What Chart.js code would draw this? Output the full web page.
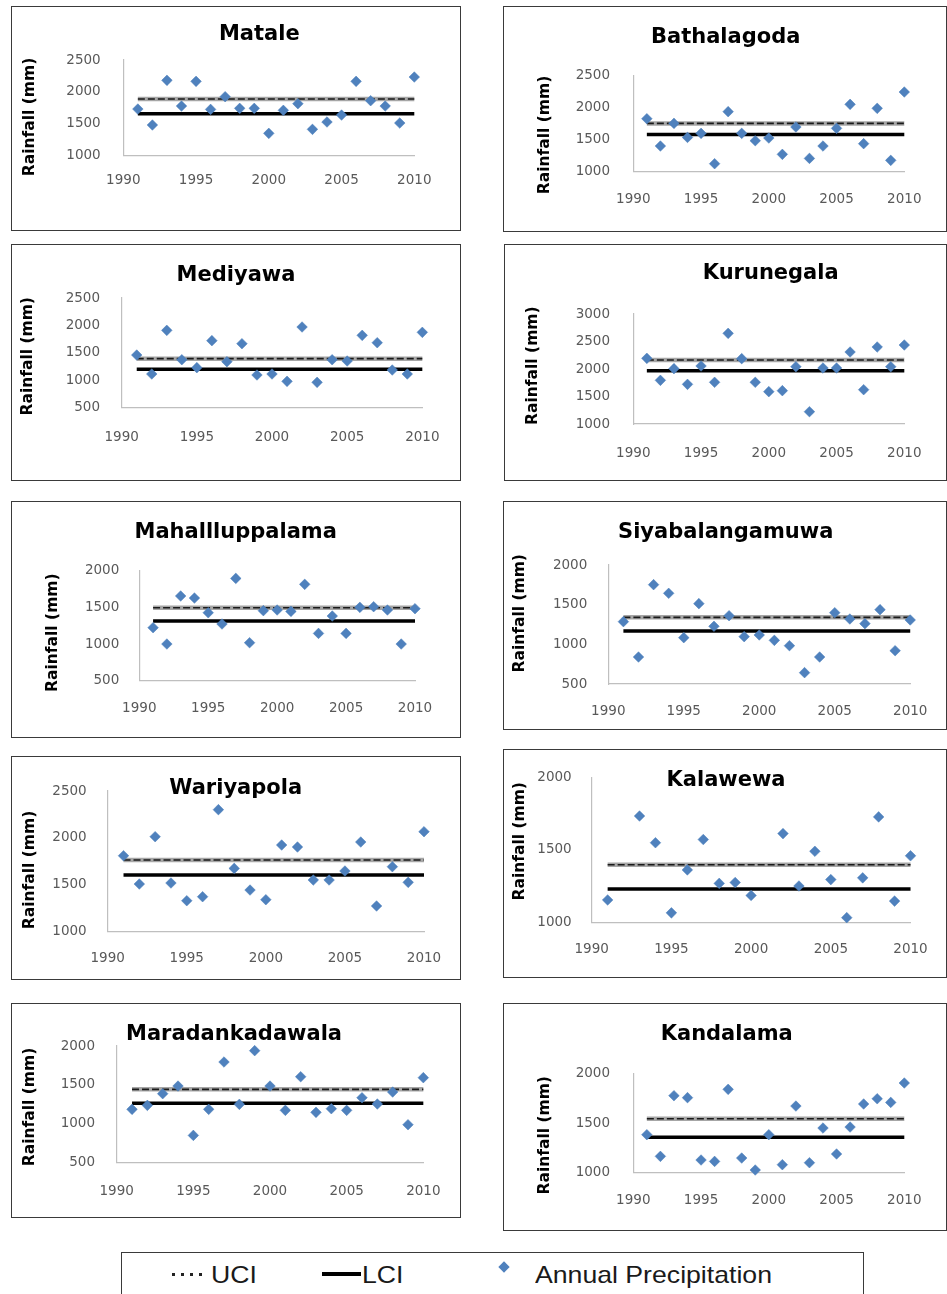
<!DOCTYPE html>
<html><head><meta charset="utf-8">
<script src="https://cdn.jsdelivr.net/npm/chart.js@4.4.1/dist/chart.umd.min.js"></script>
<style>
html,body{margin:0;padding:0;background:#fff;}
body{width:947px;height:1294px;position:relative;overflow:hidden;font-family:"Liberation Sans",Arial,sans-serif;}
.box{position:absolute;border:1.5px solid #3a3a3a;box-sizing:border-box;background:#fff;}
canvas.panel{position:absolute;}
.lg{position:absolute;white-space:nowrap;color:#1a1a1a;font-size:24px;line-height:24px;transform:scaleX(1.11);transform-origin:0 50%;}
</style></head><body>
<div id="legend" class="box" style="left:121px;top:1252px;width:743px;height:60px;"></div>
<div style="position:absolute;left:172px;top:1273px;width:36px;height:3px;background:repeating-linear-gradient(to right,#222 0 3px,transparent 3px 9px);"></div>
<div class="lg" style="left:211px;top:1263px;">UCI</div>
<div style="position:absolute;left:322px;top:1272px;width:39px;height:4px;background:#000;"></div>
<div class="lg" style="left:362px;top:1263px;">LCI</div>
<div style="position:absolute;left:500px;top:1263px;width:8px;height:8px;background:#4F81BD;transform:rotate(45deg);"></div>
<div class="lg" style="left:535px;top:1263px;">Annual Precipitation</div>
<script>
// ---- data ----
const years = [1991,1992,1993,1994,1995,1996,1997,1998,1999,2000,2001,2002,2003,2004,2005,2006,2007,2008,2009,2010];
const xTicks = [1990,1995,2000,2005,2010];

const mataleRain = [1731,1481,2181,1778,2165,1726,1925,1742,1742,1350,1711,1815,1413,1528,1637,2165,1862,1778,1512,2233];
const mataleUCI = 1888, mataleLCI = 1658;
const mataleYTicks = [1000,1500,2000,2500];

const bathalagodaRain = [1828,1401,1755,1536,1599,1125,1938,1599,1484,1526,1271,1698,1208,1401,1677,2052,1438,1990,1177,2245];
const bathalagodaUCI = 1755, bathalagodaLCI = 1583;
const bathalagodaYTicks = [1000,1500,2000,2500];

const mediyawaRain = [1460,1114,1910,1375,1230,1722,1339,1667,1096,1114,980,1971,962,1375,1351,1819,1685,1187,1114,1874];
const mediyawaUCI = 1394, mediyawaLCI = 1199;
const mediyawaYTicks = [500,1000,1500,2000,2500];

const kurunegalaRain = [2194,1794,2006,1721,2055,1758,2648,2188,1758,1588,1606,2042,1224,2018,2018,2309,1624,2400,2042,2436];
const kurunegalaUCI = 2164, kurunegalaLCI = 1970;
const kurunegalaYTicks = [1000,1500,2000,2500,3000];

const mahalluppalamaRain = [1223,1000,1655,1627,1427,1273,1895,1018,1455,1464,1445,1814,1145,1382,1145,1500,1509,1464,1000,1482];
const mahalluppalamaUCI = 1495, mahalluppalamaLCI = 1314;
const mahalluppalamaYTicks = [500,1000,1500,2000];

const siyabalangamuwaRain = [1286,840,1752,1643,1084,1513,1227,1361,1097,1118,1050,983,643,840,1399,1319,1261,1437,920,1307];
const siyabalangamuwaUCI = 1340, siyabalangamuwaLCI = 1168;
const siyabalangamuwaYTicks = [500,1000,1500,2000];

const wariyapolaRain = [1810,1508,2013,1519,1330,1373,2301,1675,1444,1341,1924,1903,1551,1551,1647,1956,1274,1693,1526,2066];
const wariyapolaUCI = 1764, wariyapolaLCI = 1604;
const wariyapolaYTicks = [1000,1500,2000,2500];

const kalawewaRain = [1154,null,1732,1548,1065,1361,1570,1268,1274,1185,null,1611,1250,1489,1294,1032,1306,1726,1146,1458];
const kalawewaUCI = 1396, kalawewaLCI = 1229;
const kalawewaYTicks = [1000,1500,2000];

const maradankadawalaRain = [1186,1237,1387,1485,851,1186,1794,1250,1940,1485,1173,1605,1147,1194,1173,1335,1254,1408,988,1593];
const maradankadawalaUCI = 1443, maradankadawalaLCI = 1263;
const maradankadawalaYTicks = [500,1000,1500,2000];

const kandalamaRain = [1384,1165,1778,1758,1128,1114,1842,1148,1027,1384,1081,1673,1101,1451,1189,1461,1694,1747,1710,1906];
const kandalamaUCI = 1545, kandalamaLCI = 1357;
const kandalamaYTicks = [1000,1500,2000];

const yAxisTitle = 'Rainfall (mm)';

// ---- layout (page pixels) ----
const panels = [
 {title:'Matale', rain:mataleRain, uci:mataleUCI, lci:mataleLCI, yTicks:mataleYTicks,
  box:[11,6,461,231], plot:[123.3,60,414.3,155.7], t:[259.3,35], yt:[30,117], yLab:100.7, xLabY:180},
 {title:'Bathalagoda', rain:bathalagodaRain, uci:bathalagodaUCI, lci:bathalagodaLCI, yTicks:bathalagodaYTicks,
  box:[503,6,947,232], plot:[633.3,75.7,904.3,171.7], t:[725.7,37.3], yt:[545,135], yLab:610, xLabY:199.7},
 {title:'Mediyawa', rain:mediyawaRain, uci:mediyawaUCI, lci:mediyawaLCI, yTicks:mediyawaYTicks,
  box:[11,244,461,481], plot:[121.7,298,424,407.7], t:[236,275.3], yt:[28.3,356.3], yLab:100, xLabY:437.3},
 {title:'Kurunegala', rain:kurunegalaRain, uci:kurunegalaUCI, lci:kurunegalaLCI, yTicks:kurunegalaYTicks,
  box:[504,244,947,481], plot:[633.3,314,904.3,424], t:[770.7,273.7], yt:[533.3,365.7], yLab:610, xLabY:453},
 {title:'Mahallluppalama', rain:mahalluppalamaRain, uci:mahalluppalamaUCI, lci:mahalluppalamaLCI, yTicks:mahalluppalamaYTicks,
  box:[11,501,461,738], plot:[139.3,570.7,415,680.7], t:[235.7,532.3], yt:[53.3,632.7], yLab:119.3, xLabY:708.3},
 {title:'Siyabalangamuwa', rain:siyabalangamuwaRain, uci:siyabalangamuwaUCI, lci:siyabalangamuwaLCI, yTicks:siyabalangamuwaYTicks,
  box:[503,501,947,730], plot:[608.3,565,913.3,684], t:[725.7,532.3], yt:[520,613.3], yLab:587.3, xLabY:711.7},
 {title:'Wariyapola', rain:wariyapolaRain, uci:wariyapolaUCI, lci:wariyapolaLCI, yTicks:wariyapolaYTicks,
  box:[11,756,461,980], plot:[107.7,791,424,931.7], t:[235.7,788.3], yt:[30,870], yLab:86.7, xLabY:958.3},
 {title:'Kalawewa', rain:kalawewaRain, uci:kalawewaUCI, lci:kalawewaLCI, yTicks:kalawewaYTicks,
  box:[503,749,947,978], plot:[591.7,758,913.3,922.3], t:[726,780.7], yt:[520,841.3], yLab:571.7, xLabY:949.7},
 {title:'Maradankadawala', rain:maradankadawalaRain, uci:maradankadawalaUCI, lci:maradankadawalaLCI, yTicks:maradankadawalaYTicks,
  box:[11,1003,461,1218], plot:[116.7,1046,424,1162.7], t:[234,1034.3], yt:[30,1107], yLab:95, xLabY:1191.3},
 {title:'Kandalama', rain:kandalamaRain, uci:kandalamaUCI, lci:kandalamaLCI, yTicks:kandalamaYTicks,
  box:[503,1003,947,1231], plot:[633.3,1073.7,904.3,1172.7], t:[726.7,1034.3], yt:[545,1135.3], yLab:610, xLabY:1200.3}
];

const labelPlugin = {
  id:'panelLabels',
  afterDraw(chart){
    const o = chart.options.plugins.panelLabels;
    const ctx = chart.ctx;
    ctx.save();
    ctx.fillStyle = '#000';
    ctx.textAlign = 'center';
    ctx.textBaseline = 'middle';
    ctx.font = 'bold 21px "DejaVu Sans"';
    ctx.fillText(o.title, o.tx, o.ty);
    ctx.translate(o.yx, o.yy);
    ctx.rotate(-Math.PI/2);
    ctx.font = 'bold 15.5px "DejaVu Sans"';
    ctx.fillText(o.ytitle, 0, 0);
    ctx.restore();
  }
};

const tickFont = {family:'DejaVu Sans', size:13.5};
const tickColor = '#595959';
const axisColor = '#bfbfbf';

panels.forEach(p => {
  const [bl, bt, br, bb] = p.box;
  const [L, T, R, B] = p.plot;
  const W = br - bl, H = bb - bt;
  const frame = document.createElement('div');
  frame.className = 'box';
  Object.assign(frame.style, {left:bl+'px', top:bt+'px', width:W+'px', height:H+'px'});
  document.body.appendChild(frame);
  const cv = document.createElement('canvas');
  cv.className = 'panel';
  cv.width = W; cv.height = H;
  Object.assign(cv.style, {left:bl+'px', top:bt+'px', width:W+'px', height:H+'px'});
  document.body.appendChild(cv);

  const x0 = years[0], x1 = years[years.length-1];
  const pts = years.map((yr,i) => ({x:yr, y:p.rain[i]})).filter(d => d.y !== null);
  new Chart(cv, {
    type:'scatter',
    data:{datasets:[
      {label:'Annual Precipitation', data:pts, pointStyle:'rectRot', pointRadius:5.3,
       backgroundColor:'#4F81BD', borderColor:'#4A7EBB', borderWidth:0.5, showLine:false, order:0, clip:false},
      {label:'LCI', type:'line', data:[{x:x0,y:p.lci},{x:x1,y:p.lci}], borderColor:'#000', borderWidth:3.5,
       pointRadius:0, order:1, clip:false},
      {label:'UCI', type:'line', data:[{x:x0,y:p.uci},{x:x1,y:p.uci}], borderColor:'#1a1a1a', borderWidth:1.6,
       borderDash:[7,3], pointRadius:0, order:2, clip:false},
      {label:'UCI band', type:'line', data:[{x:x0,y:p.uci},{x:x1,y:p.uci}], borderColor:'#a6a6a6', borderWidth:4.5,
       pointRadius:0, order:3, clip:false}
    ]},
    options:{
      responsive:false, animation:false, events:[], devicePixelRatio:1,
      layout:{padding:{left:0, top:T-bt, right:br-R, bottom:0}},
      plugins:{
        legend:{display:false}, tooltip:{enabled:false}, title:{display:false},
        panelLabels:{title:p.title, tx:p.t[0]-bl, ty:p.t[1]-bt, yx:p.yt[0]-bl, yy:p.yt[1]-bt, ytitle:yAxisTitle}
      },
      scales:{
        x:{type:'linear', min:xTicks[0], max:xTicks[xTicks.length-1],
           afterBuildTicks:s => { s.ticks = xTicks.map(v => ({value:v})); },
           afterFit:s => { s.height = bb - B; },
           ticks:{callback:v => String(v), font:tickFont, color:tickColor, padding:p.xLabY - B - 8.1, maxRotation:0, autoSkip:false},
           grid:{display:false, drawTicks:false},
           border:{display:true, color:axisColor, width:1.2}},
        y:{type:'linear', min:p.yTicks[0], max:p.yTicks[p.yTicks.length-1],
           afterBuildTicks:s => { s.ticks = p.yTicks.map(v => ({value:v})); },
           afterFit:s => { s.width = L - bl; },
           ticks:{callback:v => String(v), font:tickFont, color:tickColor, padding:L - p.yLab, autoSkip:false},
           grid:{display:false, drawTicks:false},
           border:{display:true, color:axisColor, width:1.2}}
      }
    },
    plugins:[labelPlugin]
  });
});
</script>
</body></html>
